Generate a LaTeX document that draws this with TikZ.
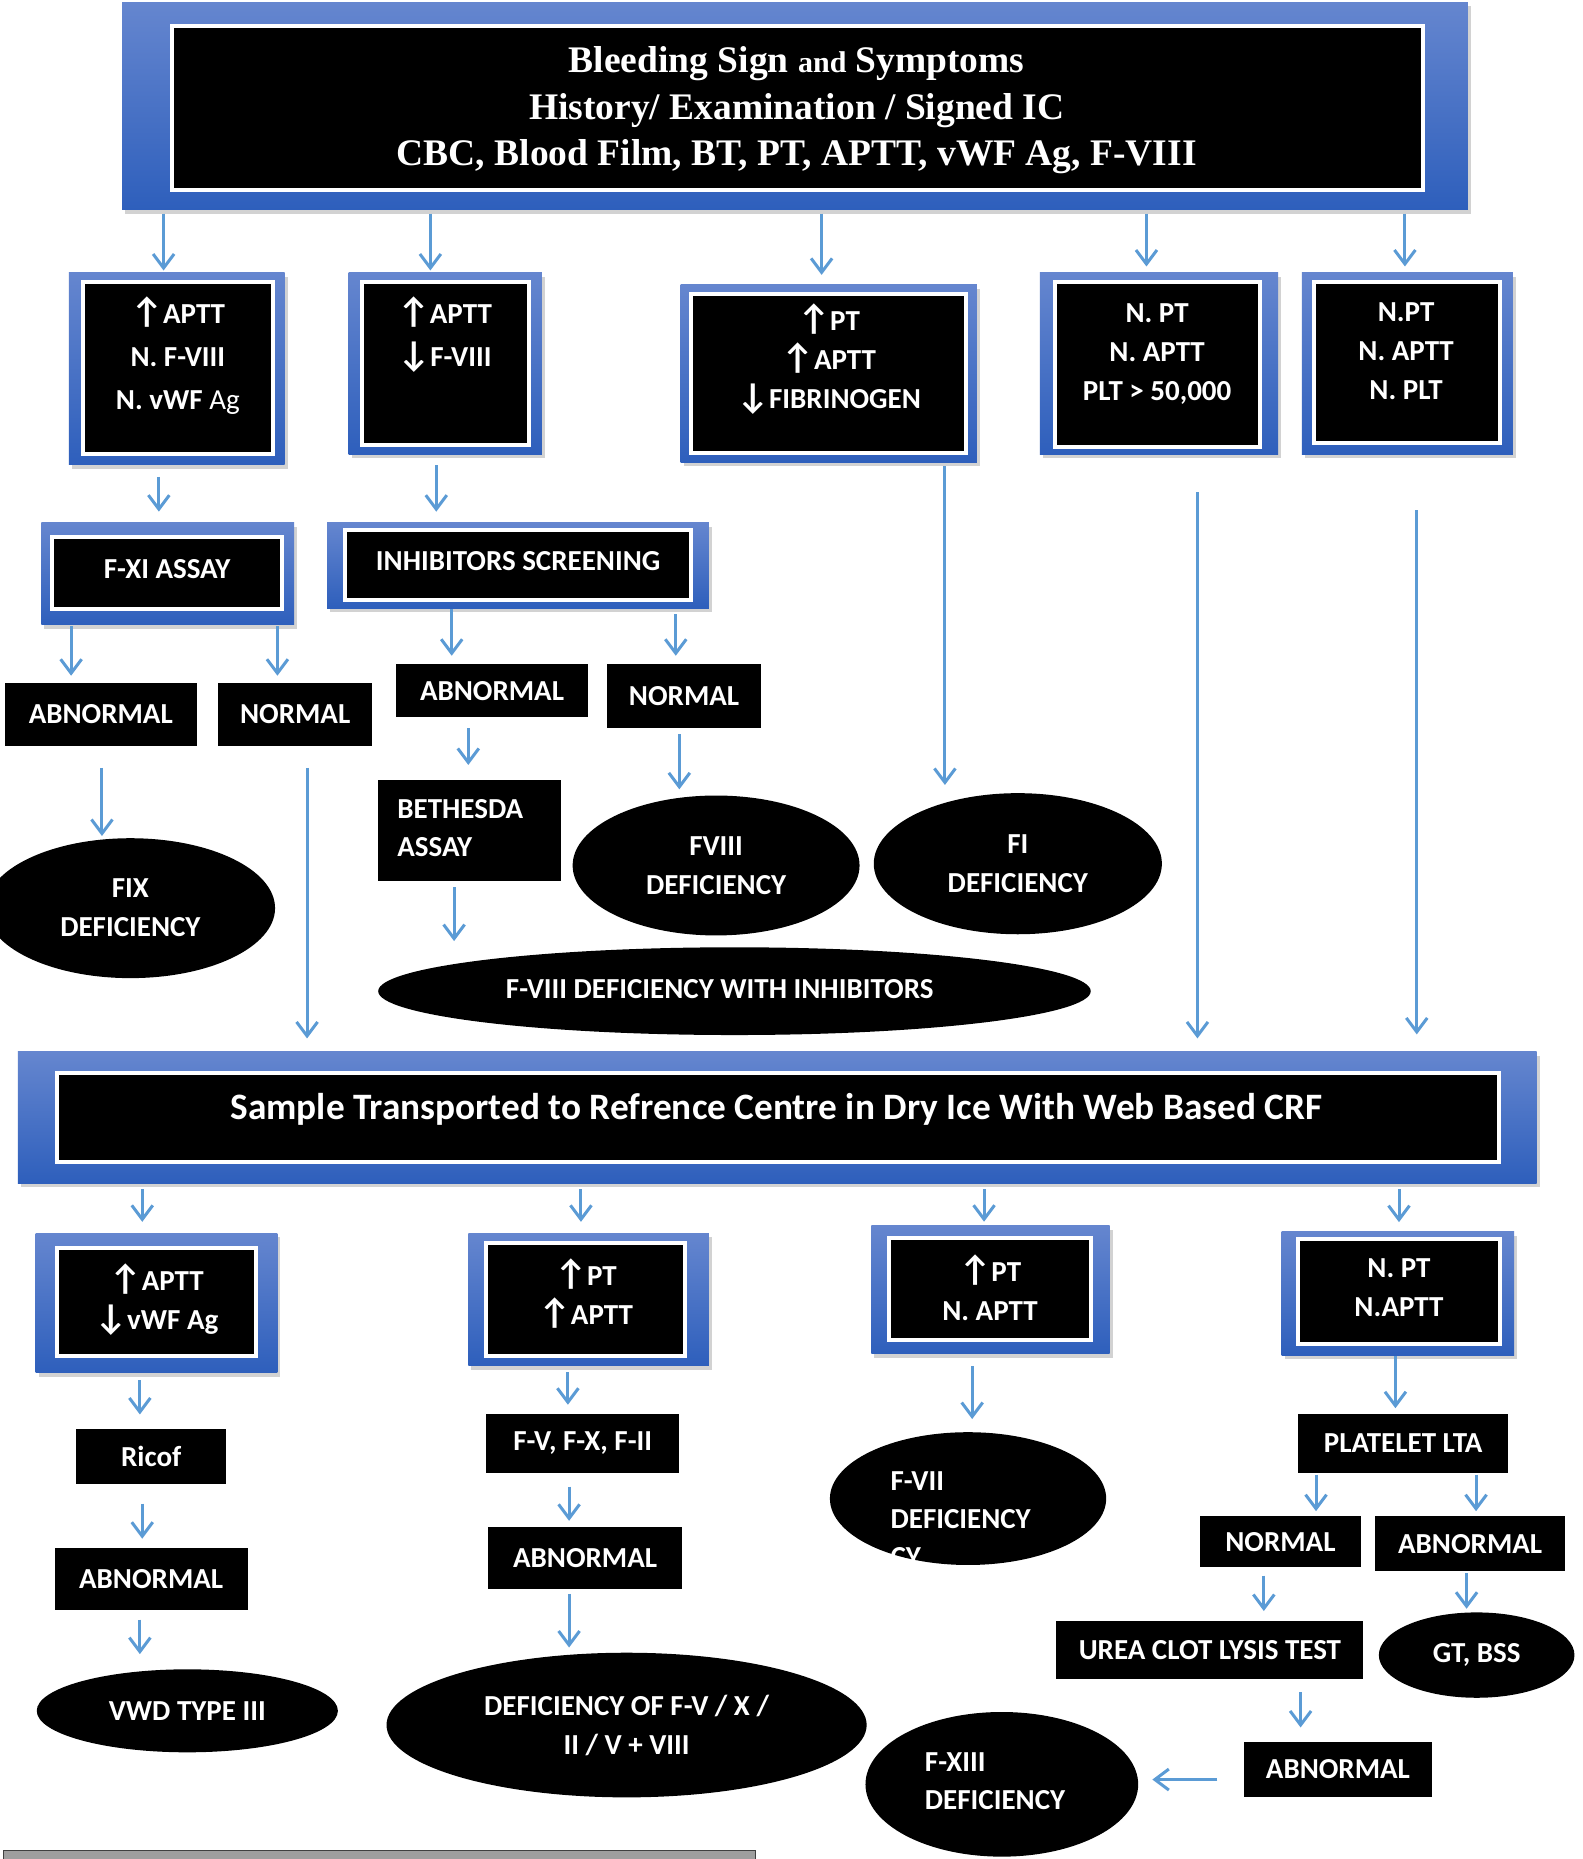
\documentclass[tikz,border=0pt]{standalone}
\usepackage{fontspec}
\setmainfont{Carlito}
\newfontfamily\tnr{Liberation Serif}
\usetikzlibrary{shapes.geometric,arrows.meta,shadows}
\definecolor{arrblue}{HTML}{5B9BD5}
\definecolor{topblue}{HTML}{6586CF}
\definecolor{botblue}{HTML}{2E5FBC}
\def\U{1.1858pt}
\newcommand\bxf{\bfseries\fontsize{29}{39}\selectfont}
\newcommand\UA{{\fontsize{36}{39}\selectfont ↑}}
\newcommand\DA{{\fontsize{36}{39}\selectfont ↓}}
\newcommand\RN[7][plainbox]{\node[#1,minimum width={(#5-#3)*\U},minimum height={(#6-#4)*\U}] (#2) at ({(#3+#5)/2},{(#4+#6)/2}) {#7};}
\tikzset{
 outerbox/.style={rectangle,inner sep=0pt,top color=topblue,bottom color=botblue,drop shadow={shadow xshift=3pt,shadow yshift=-4pt,opacity=0.35}},
 innerbox/.style={rectangle,inner sep=0pt,fill=black,draw=white,line width=4pt},
 plainbox/.style={rectangle,inner sep=0pt,fill=black,text=white,font=\bxf,align=center},
 ellbox/.style={ellipse,inner sep=0pt,fill=black,text=white,font=\bxf,align=center},
 wt/.style={inner sep=0pt,text=white,font=\bxf,align=center},
 arr/.style={draw=arrblue,line width=3pt,-{Straight Barb[length=14pt,width=21pt]}},
}
\begin{document}
\begin{tikzpicture}[x=1.1858pt,y=-1.1858pt]
\path[use as bounding box,fill=white] (0,0) rectangle (1335,1568);

% ---- top box
\RN[outerbox]{topo}{103}{2}{1238}{177}{}
\RN[innerbox]{top}{145}{22}{1200}{160}{}
\node[wt,font=\tnr\bfseries\fontsize{37.5}{46.8}\selectfont] (topt) at (672,93)
 {Bleeding Sign {\fontsize{30}{36}\selectfont and} Symptoms\\History/ Examination / Signed IC\\CBC, Blood Film, BT, PT, APTT, vWF Ag, F-VIII};

% ---- row 2
\RN[outerbox]{b1o}{58}{230}{240}{392}{}
\RN[innerbox]{b1}{70}{238}{230}{383}{}
\node[wt,font=\bfseries\fontsize{29}{42.7}\selectfont] (b1t) at (150,300) {\UA APTT\\N. F-VIII\\N. vWF {\mdseries Ag}};
\RN[outerbox]{b2o}{294}{230}{457}{383}{}
\RN[innerbox]{b2}{305}{238}{446}{375}{}
\node[wt,font=\bfseries\fontsize{29}{42.7}\selectfont] (b2t) at (375,282) {\UA APTT\\\DA F-VIII};
\RN[outerbox]{b3o}{574}{240}{824}{390}{}
\RN[innerbox]{b3}{583}{248}{815}{382}{}
\node[wt] (b3t) at (699,303) {\UA PT\\\UA APTT\\\DA FIBRINOGEN};
\RN[outerbox]{b4o}{877}{230}{1078}{383}{}
\RN[innerbox]{b4}{890}{238}{1063}{377}{}
\node[wt] (b4t) at (976,299) {N. PT\\N. APTT\\PLT > 50,000};
\RN[outerbox]{b5o}{1098}{230}{1276}{383}{}
\RN[innerbox]{b5}{1108}{238}{1265}{374}{}
\node[wt] (b5t) at (1186,296) {N.PT\\N. APTT\\N. PLT};

% ---- row 3
\RN[outerbox]{fxio}{35}{441}{248}{527}{}
\RN[innerbox]{fxi}{44}{453}{238}{514}{}
\node[wt] (fxit) at (141,480) {F-XI ASSAY};
\RN[outerbox]{inho}{276}{441}{598}{513}{}
\RN[innerbox]{inh}{291}{447}{583}{506}{}
\node[wt] (inht) at (437,473) {INHIBITORS SCREENING};

\RN{abn1}{4}{576}{166}{629}{ABNORMAL}
\RN{nor1}{184}{576}{314}{629}{NORMAL}
\RN{abn2}{334}{560}{496}{605}{ABNORMAL}
\RN{nor2}{512}{560}{642}{614}{NORMAL}
\RN{beth}{319}{658}{473}{743}{}
\node[wt,align=left,anchor=base west,font=\bfseries\fontsize{29}{38}\selectfont] (betht) at (335,722) {BETHESDA\\ASSAY};

\node[ellbox,minimum width={244*\U},minimum height={118*\U}] (fix) at (110,766) {FIX\\DEFICIENCY};
\node[ellbox,minimum width={242*\U},minimum height={118*\U}] (f8) at (604,730) {FVIII\\DEFICIENCY};
\node[ellbox,minimum width={243*\U},minimum height={119*\U}] (f1) at (858.5,728.5) {FI\\DEFICIENCY};
\node[ellbox,minimum width={601*\U},minimum height={74*\U}] (f8i) at (619.5,836) {};
\node[wt] (f8it) at (607,834) {F-VIII DEFICIENCY WITH INHIBITORS};

% ---- sample box
\RN[outerbox]{sampo}{15}{887}{1296}{998}{}
\RN[innerbox]{samp}{48}{905}{1264}{980}{}
\node[wt,font=\bfseries\fontsize{37.3}{44}\selectfont] (sampt) at (655,936) {Sample Transported to Refrence Centre in Dry Ice With Web Based CRF};

% ---- row 4
\RN[outerbox]{c1o}{30}{1040}{234}{1158}{}
\RN[innerbox]{c1}{48}{1053}{216}{1144}{}
\node[wt] (c1t) at (132,1096) {\UA APTT\\\DA vWF Ag};
\RN[outerbox]{c2o}{395}{1040}{598}{1152}{}
\RN[innerbox]{c2}{410}{1048}{578}{1144}{}
\node[wt] (c2t) at (494,1091) {\UA PT\\\UA APTT};
\RN[outerbox]{c3o}{735}{1034}{936}{1142}{}
\RN[innerbox]{c3}{750}{1044}{920}{1130}{}
\node[wt] (c3t) at (835,1086.5) {\UA PT\\N. APTT};
\RN[outerbox]{c4o}{1081}{1039}{1277}{1143}{}
\RN[innerbox]{c4}{1095}{1045}{1265}{1134}{}
\node[wt] (c4t) at (1180,1086) {N. PT\\N.APTT};

\RN{ricof}{64}{1205}{191}{1252}{Ricof}
\RN{abn3}{46}{1306}{209}{1358}{ABNORMAL}
\node[ellbox,minimum width={254*\U},minimum height={70*\U}] (vwd) at (158,1443) {VWD TYPE III};

\RN{fvx}{410}{1193}{573}{1242}{F-V, F-X, F-II}
\RN{abn4}{412}{1288}{575}{1340}{ABNORMAL}
\node[ellbox,minimum width={405*\U},minimum height={122*\U}] (defc) at (528.5,1455) {DEFICIENCY OF F-V / X /\\II / V + VIII};

\node[ellbox,minimum width={233*\U},minimum height={112*\U}] (f7) at (816.5,1264) {};
\begin{scope}
\clip (816.5,1264) ellipse [x radius=116.5, y radius=56];
\node[wt,align=left,anchor=base west,font=\bfseries\fontsize{29}{38}\selectfont] (f7t) at (751,1321) {F-VII\\DEFICIENCY\\CY};
\end{scope}

\RN{plt}{1095}{1193}{1272}{1242}{PLATELET LTA}
\RN{nor3}{1012}{1279}{1148}{1322}{NORMAL}
\RN{abn5}{1160}{1279}{1320}{1325}{ABNORMAL}
\RN{urea}{891}{1367}{1150}{1416}{UREA CLOT LYSIS TEST}
\node[ellbox,minimum width={165*\U},minimum height={72*\U}] (gt) at (1245.5,1396) {GT, BSS};
\RN{abn6}{1049}{1469}{1208}{1516}{ABNORMAL}
\node[ellbox,minimum width={230*\U},minimum height={122*\U}] (f13) at (845,1505) {};
\node[wt,align=left,anchor=base west,font=\bfseries\fontsize{29}{38}\selectfont] (f13t) at (780,1526) {F-XIII\\DEFICIENCY};

\RN[rectangle,inner sep=0pt,fill=black!38,draw=black!75,line width=1pt]{bar}{3}{1561}{637}{1572}{}

% ---- arrows
\draw[arr,shorten <=3.5pt,shorten >=2pt] (topo.south -| 138,0) -- (b1o.north -| 138,0);
\draw[arr,shorten <=3.5pt,shorten >=2pt] (topo.south -| 363,0) -- (b2o.north -| 363,0);
\draw[arr,shorten <=3.5pt,shorten >=9.5pt] (topo.south -| 693,0) -- (b3o.north -| 693,0);
\draw[arr,shorten <=3.5pt,shorten >=6pt] (topo.south -| 967,0) -- (b4o.north -| 967,0);
\draw[arr,shorten <=3.5pt,shorten >=6pt] (topo.south -| 1185,0) -- (b5o.north -| 1185,0);

\draw[arr,shorten <=12pt,shorten >=11pt] (b1o.south -| 134,0) -- (fxio.north -| 134,0);
\draw[arr,shorten <=11pt,shorten >=11pt] (b2o.south -| 368,0) -- (inho.north -| 368,0);
\draw[arr,shorten <=1pt,shorten >=7pt] (fxio.south -| 60,0) -- (abn1.north -| 60,0);
\draw[arr,shorten <=1pt,shorten >=7pt] (fxio.south -| 234,0) -- (nor1.north -| 234,0);
\draw[arr,shorten <=1pt,shorten >=8pt] (inho.south -| 381,0) -- (abn2.north -| 381,0);
\draw[arr,shorten <=6pt,shorten >=8pt] (inho.south -| 570,0) -- (nor2.north -| 570,0);
\draw[arr,shorten <=22pt,shorten >=2pt] (abn1.south -| 86,0) -- (fix.north -| 86,0);
\draw[arr,shorten <=22pt,shorten >=13pt] (nor1.south -| 259,0) -- (sampo.north -| 259,0);
\draw[arr,shorten <=11pt,shorten >=15pt] (abn2.south -| 395,0) -- (beth.north -| 395,0);
\draw[arr,shorten <=6pt,shorten >=6pt] (nor2.south -| 573,0) -- (f8.north -| 573,0);
\draw[arr,shorten <=3.5pt,shorten >=8pt] (b3o.south -| 797,0) -- (f1.north -| 797,0);
\draw[arr,shorten <=6pt,shorten >=6pt] (beth.south -| 383,0) -- (f8i.north -| 383,0);
\draw[arr,shorten <=38pt,shorten >=13pt] (b4o.south -| 1010,0) -- (sampo.north -| 1010,0);
\draw[arr,shorten <=56pt,shorten >=17pt] (b5o.south -| 1195,0) -- (sampo.north -| 1195,0);

\draw[arr,shorten <=6pt,shorten >=11pt] (sampo.south -| 120,0) -- (c1o.north -| 120,0);
\draw[arr,shorten <=6pt,shorten >=11pt] (sampo.south -| 490,0) -- (c2o.north -| 490,0);
\draw[arr,shorten <=6pt,shorten >=4pt] (sampo.south -| 830,0) -- (c3o.north -| 830,0);
\draw[arr,shorten <=6pt,shorten >=9.5pt] (sampo.south -| 1180,0) -- (c4o.north -| 1180,0);

\draw[arr,shorten <=7pt,shorten >=14pt] (c1o.south -| 118,0) -- (ricof.north -| 118,0);
\draw[arr,shorten <=19pt,shorten >=9.5pt] (ricof.south -| 120,0) -- (abn3.north -| 120,0);
\draw[arr,shorten <=9.5pt,shorten >=15pt] (abn3.south -| 118,0) -- (vwd.north -| 118,0);
\draw[arr,shorten <=6pt,shorten >=9.5pt] (c2o.south -| 479,0) -- (fvx.north -| 479,0);
\draw[arr,shorten <=14pt,shorten >=6pt] (fvx.south -| 480,0) -- (abn4.north -| 480,0);
\draw[arr,shorten <=5pt,shorten >=5pt] (abn4.south -| 480,0) -- (defc.north -| 480,0);
\draw[arr,shorten <=12pt,shorten >=13pt] (c3o.south -| 820,0) -- (f7.north -| 820,0);
\draw[arr,shorten <=1pt,shorten >=6pt] (c4o.south -| 1177,0) -- (plt.north -| 1177,0);
\draw[arr,shorten <=2pt,shorten >=5pt] (plt.south -| 1110,0) -- (nor3.north -| 1110,0);
\draw[arr,shorten <=2pt,shorten >=5pt] (plt.south -| 1245,0) -- (abn5.north -| 1245,0);
\draw[arr,shorten <=8pt,shorten >=9.5pt] (nor3.south -| 1066,0) -- (urea.north -| 1066,0);
\draw[arr,shorten <=2pt,shorten >=3.5pt] (abn5.south -| 1237,0) -- (gt.north -| 1237,0);
\draw[arr,shorten <=13pt,shorten >=14pt] (urea.south -| 1097,0) -- (abn6.north -| 1097,0);
\draw[arr,shorten <=26pt,shorten >=14pt] (abn6.west |- 0,1501) -- (f13.east |- 0,1501);
\end{tikzpicture}
\end{document}
